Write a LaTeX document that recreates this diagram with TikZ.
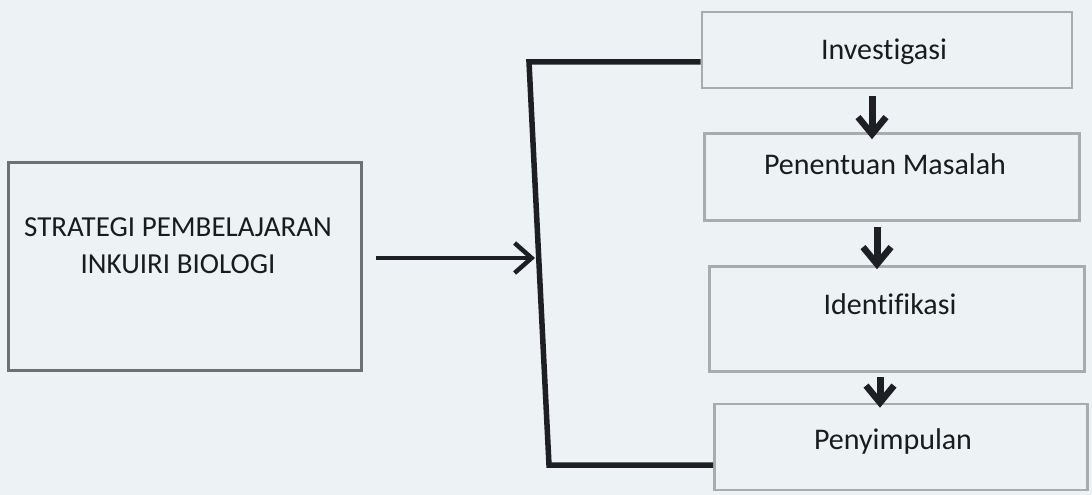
\documentclass[tikz,border=0pt]{standalone}
\usepackage{fontspec}
\setmainfont{Carlito}[Ligatures=NoCommon]
\usetikzlibrary{arrows.meta,calc}
\definecolor{paper}{HTML}{EDF2F5}
\definecolor{ink}{HTML}{1E1F24}
\definecolor{boxline}{HTML}{A9ABAD}
\definecolor{leftline}{HTML}{6E7072}
\definecolor{txt}{HTML}{1A1B1E}
\begin{document}
\begin{tikzpicture}[x=1pt,y=-1pt,
  stepbox/.style={draw=boxline,line width=2.6pt,rectangle,inner sep=0pt},
  mainbox/.style={draw=leftline,line width=3pt,rectangle,inner sep=0pt},
  lbl/.style={font=\fontsize{30}{36}\selectfont,text=txt,align=center,inner sep=0pt},
  lbll/.style={font=\fontsize{29}{37}\selectfont,text=txt,align=center,inner sep=0pt},
  brack/.style={draw=ink,line width=5.5pt,line cap=butt,line join=miter},
  bigarrow/.style={draw=ink,line width=4.5pt,-{Straight Barb[length=17pt,width=30pt,line width=4.5pt]}},
  downarr/.style={draw=ink,line width=7pt,-{Straight Barb[length=17pt,width=28pt,line width=6.5pt]}}
]
\fill[paper] (0,0) rectangle (1092,495);
\useasboundingbox (0,0) rectangle (1092,495);

% left box
\node[mainbox,minimum width=353pt,minimum height=208pt] (s) at (185,266) {};
\node[lbll] (st) at (178,246) {STRATEGI PEMBELAJARAN\\INKUIRI BIOLOGI};

% right boxes
\node[stepbox,minimum width=370pt,minimum height=76pt] (b1) at (887,50) {};
\node[lbl] (t1) at (884,52) {Investigasi};
\node[stepbox,minimum width=375pt,minimum height=87pt] (b2) at (892,177) {};
\node[lbl] (t2) at (885,164) {Penentuan Masalah};
\node[stepbox,minimum width=375pt,minimum height=105pt] (b3) at (897,319) {};
\node[lbl] (t3) at (890,304) {Identifikasi};
\node[stepbox,minimum width=373pt,minimum height=86pt] (b4) at (901,447) {};
\node[lbl] (t4) at (893,441) {Penyimpulan};

% bracket
\coordinate (bt) at (529,62);
\coordinate (bb) at (549,465);
\draw[brack] (b1.west |- bt) -- (bt) -- (bb) -- (b4.west |- bb);

% main arrow
\coordinate (ain) at (376,258);
\coordinate (aout) at (535,258);
\draw[bigarrow] (ain) -- (aout);

% down arrows
\draw[downarr] ([xshift=-15pt,yshift=-7pt]b1.south) -- ([xshift=-20pt,yshift=-7pt]b2.north);
\draw[downarr] ([xshift=-15pt,yshift=-5pt]b2.south) -- ([xshift=-20pt,yshift=-4pt]b3.north);
\draw[downarr] ([xshift=-17pt,yshift=-4pt]b3.south) -- ([xshift=-21pt,yshift=-5pt]b4.north);
\end{tikzpicture}
\end{document}
